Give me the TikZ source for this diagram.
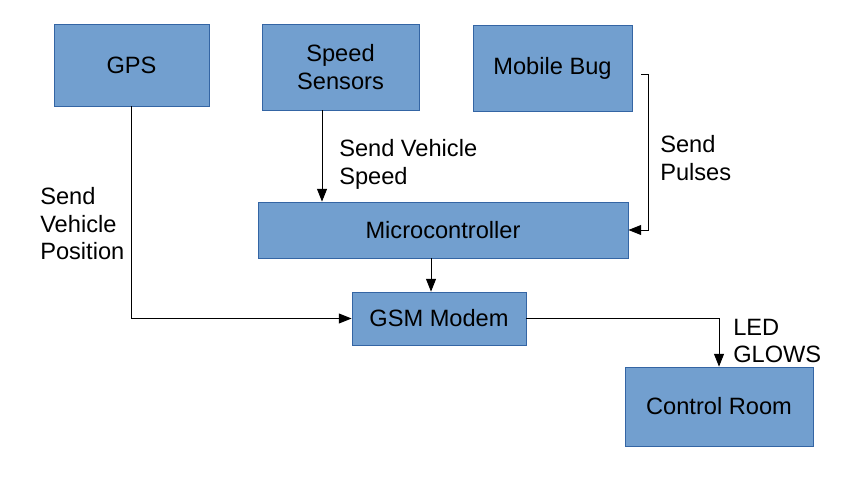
\documentclass[tikz,border=0pt]{standalone}
\usepackage{fontspec}
\setmainfont{Liberation Sans}
\usepackage{tikz}
\usetikzlibrary{arrows.meta, positioning, calc}
\definecolor{unitblue}{HTML}{729FCF}
\definecolor{unitedge}{HTML}{3465A4}

\begin{document}
\begin{tikzpicture}[x=0.025cm, y=-0.025cm,
    unit/.style={draw=unitedge, fill=unitblue, line width=0.5pt, inner sep=0pt, align=center, font=\fontsize{16.8}{19.4}\selectfont},
    note/.style={anchor=north west, inner sep=0pt, align=left, font=\fontsize{16.8}{19.4}\selectfont},
    link/.style={-{Triangle[length=9pt, width=7pt]}, line width=0.7pt},
]
    \useasboundingbox (0,0) rectangle (847,485);

    % Sources
    \node[unit, minimum width=3.875cm, minimum height=2.05cm] (gps) at (131.5, 65) {GPS};
    \node[unit, minimum width=3.925cm, minimum height=2.15cm] (speed) at (340.5, 67) {Speed\\Sensors};
    \node[unit, minimum width=3.975cm, minimum height=2.15cm] (bug) at (552.5, 68) {Mobile Bug};

    % Processing
    \node[unit, minimum width=9.25cm, minimum height=1.4cm] (micro) at (443, 230) {Microcontroller};
    \node[unit, minimum width=4.35cm, minimum height=1.325cm] (gsm) at (439, 318.5) {GSM Modem};

    % Receiver
    \node[unit, minimum width=4.7cm, minimum height=1.975cm] (room) at (719, 406.5) {Control Room};

    % Connectors
    \coordinate (bugout) at (641, 74);
    \draw[link] (gps.south) |- (gsm.west);
    \draw[link] (speed.south -| 322,0) -- (micro.north -| 322,0);
    \draw[link] (bugout) -| ($(micro.east)+(20,0)$) -- (micro.east);
    \draw[link] (micro.south -| 431,0) -- (gsm.north -| 431,0);
    \draw[link] (gsm.east) -| (room.north);

    % Labels
    \node[note] (lpos) at (40, 187.5) {Send\\Vehicle\\Position};
    \node[note] (lspeed) at (339, 139.5) {Send Vehicle\\Speed};
    \node[note] (lpulse) at (660, 135.5) {Send\\Pulses};
    \node[note] (lled) at (733, 318.5) {LED\\GLOWS};
\end{tikzpicture}
\end{document}
